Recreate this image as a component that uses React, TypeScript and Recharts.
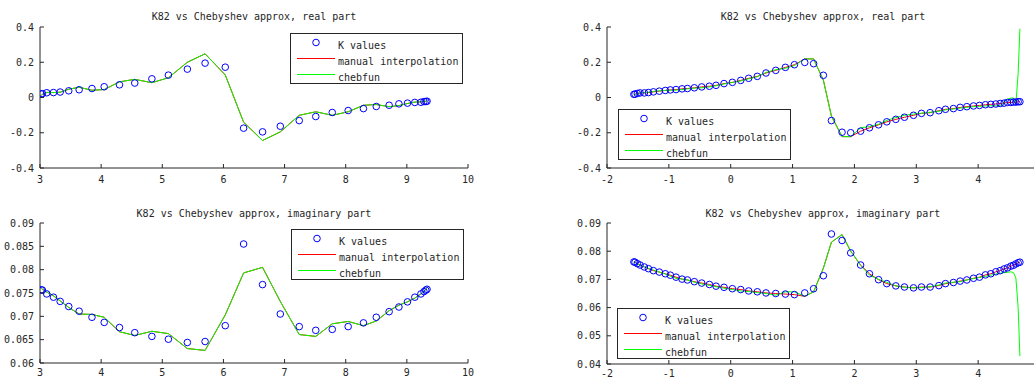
import React from 'react';
import { ComposedChart, Line, Scatter, XAxis, YAxis } from 'recharts';

const FONT = '"DejaVu Sans Mono", monospace';
const INK = '#262626';

// left column: sample points on [3, 9.33]
const kxLeft = [3.02, 3.04, 3.11, 3.22, 3.33, 3.47, 3.64, 3.85, 4.05, 4.3, 4.55, 4.83, 5.1, 5.41, 5.7, 6.03, 6.33, 6.64, 6.93, 7.24, 7.51, 7.78, 8.04, 8.29, 8.5, 8.71, 8.87, 9.01, 9.13, 9.23, 9.28, 9.31, 9.33];
const kRealLeft = [0.02, 0.022, 0.027, 0.028, 0.031, 0.038, 0.044, 0.051, 0.061, 0.072, 0.082, 0.106, 0.127, 0.161, 0.195, 0.172, -0.174, -0.195, -0.163, -0.131, -0.108, -0.085, -0.074, -0.063, -0.051, -0.044, -0.036, -0.032, -0.028, -0.027, -0.023, -0.023, -0.021];
const chebRealLeft = [0.012, 0.018, 0.029, 0.028, 0.03, 0.047, 0.058, 0.041, 0.045, 0.089, 0.103, 0.084, 0.112, 0.2, 0.248, 0.128, -0.14, -0.244, -0.195, -0.101, -0.081, -0.101, -0.081, -0.044, -0.04, -0.052, -0.046, -0.034, -0.026, -0.025, -0.022, -0.021, -0.02];
const kImagLeft = [0.0757, 0.0756, 0.0748, 0.0741, 0.0732, 0.0721, 0.0711, 0.0698, 0.0687, 0.0676, 0.0665, 0.0657, 0.0651, 0.0644, 0.0646, 0.068, 0.0855, 0.0768, 0.0705, 0.0678, 0.067, 0.0672, 0.0678, 0.0686, 0.0698, 0.071, 0.072, 0.0731, 0.0741, 0.0748, 0.0753, 0.0756, 0.0758];
const chebImagLeft = [0.076, 0.0758, 0.0752, 0.0744, 0.0733, 0.0719, 0.0705, 0.0704, 0.0698, 0.0667, 0.0659, 0.0668, 0.0663, 0.0631, 0.0627, 0.0703, 0.0793, 0.0805, 0.0732, 0.0661, 0.0657, 0.0684, 0.0689, 0.068, 0.069, 0.0712, 0.0724, 0.0731, 0.0739, 0.0748, 0.0753, 0.0758, 0.0761];

// right column: sample points on [-pi/2, 3pi/2]
const kxRight = [-1.565, -1.547, -1.51, -1.466, -1.396, -1.33, -1.25, -1.154, -1.057, -0.976, -0.884, -0.787, -0.7, -0.588, -0.469, -0.345, -0.237, -0.108, 0.027, 0.162, 0.29, 0.43, 0.57, 0.728, 0.884, 1.03, 1.197, 1.34, 1.498, 1.628, 1.8, 1.94, 2.1, 2.243, 2.39, 2.523, 2.669, 2.809, 2.955, 3.084, 3.224, 3.365, 3.472, 3.6, 3.709, 3.817, 3.925, 4.022, 4.118, 4.205, 4.286, 4.356, 4.42, 4.474, 4.529, 4.571, 4.61, 4.647, 4.675];
const kRealRight = [0.018, 0.019, 0.023, 0.026, 0.026, 0.028, 0.032, 0.036, 0.04, 0.043, 0.045, 0.049, 0.051, 0.055, 0.06, 0.064, 0.069, 0.079, 0.086, 0.097, 0.109, 0.12, 0.139, 0.154, 0.171, 0.186, 0.199, 0.192, 0.126, -0.131, -0.197, -0.2, -0.191, -0.172, -0.155, -0.138, -0.124, -0.112, -0.101, -0.09, -0.086, -0.075, -0.067, -0.063, -0.056, -0.052, -0.048, -0.045, -0.041, -0.039, -0.037, -0.034, -0.032, -0.028, -0.028, -0.026, -0.026, -0.024, -0.024];
const interpRealRight = [0.018, 0.019, 0.023, 0.026, 0.026, 0.028, 0.032, 0.036, 0.04, 0.043, 0.045, 0.049, 0.051, 0.055, 0.06, 0.064, 0.069, 0.079, 0.086, 0.097, 0.109, 0.12, 0.139, 0.154, 0.171, 0.186, 0.219, 0.219, 0.098, -0.105, -0.222, -0.222, -0.191, -0.172, -0.155, -0.138, -0.124, -0.112, -0.101, -0.09, -0.086, -0.075, -0.067, -0.063, -0.056, -0.052, -0.048, -0.045, -0.041, -0.039, -0.037, -0.034, -0.032, -0.028, -0.028, -0.026, -0.026, -0.024, -0.024];
const chebRealRight = [0.016, 0.017, 0.021, 0.026, 0.028, 0.03, 0.035, 0.038, 0.04, 0.041, 0.042, 0.045, 0.049, 0.053, 0.055, 0.06, 0.067, 0.077, 0.085, 0.094, 0.106, 0.118, 0.142, 0.158, 0.166, 0.181, 0.219, 0.219, 0.098, -0.105, -0.222, -0.222, -0.172, -0.165, -0.152, -0.13, -0.114, -0.101, -0.094, -0.089, -0.084, -0.078, -0.07, -0.065, -0.06, -0.056, -0.052, -0.05, -0.048, -0.047, -0.047, -0.046, -0.03, -0.01, -0.003, -0.003, -0.035, 0.137, 0.39];
const kImagRight = [0.0762, 0.0761, 0.0756, 0.0751, 0.0744, 0.0738, 0.0731, 0.0726, 0.072, 0.0715, 0.0708, 0.0701, 0.0698, 0.0692, 0.0687, 0.0682, 0.0676, 0.0672, 0.0667, 0.0664, 0.0659, 0.0656, 0.0652, 0.065, 0.0648, 0.0646, 0.0652, 0.0667, 0.0713, 0.0861, 0.0838, 0.0794, 0.0751, 0.072, 0.0699, 0.0685, 0.0677, 0.0673, 0.067, 0.0673, 0.0673, 0.0678, 0.0685, 0.0689, 0.0694, 0.0698, 0.0704, 0.0708, 0.0716, 0.072, 0.0727, 0.0731, 0.0737, 0.0741, 0.0747, 0.075, 0.0755, 0.0759, 0.0761];
const interpImagRight = [0.0762, 0.0761, 0.0756, 0.0751, 0.0744, 0.0738, 0.0731, 0.0726, 0.072, 0.0715, 0.0708, 0.0701, 0.0698, 0.0692, 0.0687, 0.0682, 0.0676, 0.0672, 0.0667, 0.0664, 0.0659, 0.0656, 0.0652, 0.065, 0.0648, 0.0646, 0.064, 0.0656, 0.074, 0.0832, 0.0859, 0.08, 0.0751, 0.072, 0.0699, 0.0685, 0.0677, 0.0673, 0.067, 0.0673, 0.0673, 0.0678, 0.0685, 0.0689, 0.0694, 0.0698, 0.0704, 0.0708, 0.0716, 0.072, 0.0727, 0.0731, 0.0737, 0.0741, 0.0747, 0.075, 0.0755, 0.0759, 0.0761];
const chebImagRight = [0.076, 0.0759, 0.0755, 0.075, 0.0744, 0.0739, 0.0733, 0.0726, 0.0719, 0.0712, 0.0704, 0.0701, 0.0698, 0.069, 0.0684, 0.0679, 0.0674, 0.0669, 0.0664, 0.0659, 0.0657, 0.0653, 0.065, 0.0644, 0.0656, 0.0656, 0.064, 0.0656, 0.074, 0.0832, 0.0859, 0.08, 0.075, 0.0715, 0.07, 0.069, 0.0677, 0.0672, 0.067, 0.0671, 0.0674, 0.068, 0.0687, 0.069, 0.0692, 0.0698, 0.0703, 0.0707, 0.0711, 0.0715, 0.0719, 0.0722, 0.0724, 0.0725, 0.0727, 0.0724, 0.0705, 0.06, 0.0428];

const xTicksLeft = [3, 4, 5, 6, 7, 8, 9, 10];
const xTicksRight = [-2, -1, 0, 1, 2, 3, 4];
const yTicksReal = [-0.4, -0.2, 0, 0.2, 0.4];
const yTicksImagLeft = [0.06, 0.065, 0.07, 0.075, 0.08, 0.085, 0.09];
const yTicksImagRight = [0.04, 0.05, 0.06, 0.07, 0.08, 0.09];

const titles = ['K82 vs Chebyshev approx, real part', 'K82 vs Chebyshev approx, imaginary part'];
const legendLabels = ['K values', 'manual interpolation', 'chebfun'];

type Pt = { x: number; y: number };
const zip = (xs: number[], ys: number[]): Pt[] => xs.map((x, i) => ({ x, y: ys[i] }));

const Y_GAP = 6;
const TICK = 4;

const textStyle = { fontFamily: FONT, fontSize: 10, fill: INK };

function XTick(props: any) {
  const { x, y, payload, gap } = props;
  const axisY = y - gap;
  return (
    <g>
      <line x1={x} x2={x} y1={axisY} y2={axisY - TICK} stroke={INK} />
      <text x={x} y={y} dy="0.71em" textAnchor="middle" {...textStyle}>
        {String(payload.value)}
      </text>
    </g>
  );
}

function YTick(props: any) {
  const { x, y, payload } = props;
  const axisX = x + Y_GAP;
  return (
    <g>
      <line x1={axisX} x2={axisX + TICK} y1={y} y2={y} stroke={INK} />
      <text x={x} y={y} dy="0.355em" textAnchor="end" {...textStyle}>
        {String(payload.value)}
      </text>
    </g>
  );
}

interface PanelProps {
  left: number;
  top: number;
  height: number;
  yAxisWidth: number;
  xGap: number;
  margin: { top: number; right: number; bottom: number; left: number };
  xDomain: [number, number];
  xTicks: number[];
  yDomain: [number, number];
  yTicks: number[];
  kx: number[];
  k: number[];
  interp: number[];
  cheb: number[];
}

function Panel(p: PanelProps) {
  return (
    <div style={{ position: 'absolute', left: p.left, top: p.top }}>
      <ComposedChart width={520} height={p.height} margin={p.margin}>
        <XAxis
          type="number"
          dataKey="x"
          domain={p.xDomain}
          ticks={p.xTicks}
          allowDataOverflow
          interval={0}
          height={20}
          tickLine={false}
          tickSize={0}
          tickMargin={p.xGap}
          axisLine={{ stroke: INK }}
          tick={(t: any) => <XTick {...t} gap={p.xGap} />}
        />
        <YAxis
          type="number"
          domain={p.yDomain}
          ticks={p.yTicks}
          allowDataOverflow
          interval={0}
          width={p.yAxisWidth}
          tickLine={false}
          tickSize={0}
          tickMargin={Y_GAP}
          axisLine={{ stroke: INK }}
          tick={(t: any) => <YTick {...t} />}
        />
        <Scatter
          data={zip(p.kx, p.k)}
          dataKey="y"
          isAnimationActive={false}
          shape={(s: any) => (
            <circle cx={s.cx} cy={s.cy} r={3.3} fill="none" stroke="#0000ff" strokeWidth={1} />
          )}
        />
        <Line
          data={zip(p.kx, p.interp)}
          dataKey="y"
          type="linear"
          stroke="#ff0000"
          strokeWidth={1}
          dot={false}
          activeDot={false}
          isAnimationActive={false}
        />
        <Line
          data={zip(p.kx, p.cheb)}
          dataKey="y"
          type="linear"
          stroke="#00ff00"
          strokeWidth={1}
          dot={false}
          activeDot={false}
          isAnimationActive={false}
        />
      </ComposedChart>
    </div>
  );
}

function LegendBox({ x, y }: { x: number; y: number }) {
  const rowY = [9.5, 25.5, 41.5];
  return (
    <g>
      <rect x={x + 0.5} y={y + 0.5} width={172} height={50} fill="#fff" stroke={INK} />
      <circle cx={x + 26} cy={y + rowY[0]} r={3.3} fill="none" stroke="#0000ff" />
      <line x1={x + 7} x2={x + 45} y1={y + rowY[1]} y2={y + rowY[1]} stroke="#ff0000" shapeRendering="crispEdges" />
      <line x1={x + 7} x2={x + 45} y1={y + rowY[2]} y2={y + rowY[2]} stroke="#00ff00" shapeRendering="crispEdges" />
      {legendLabels.map((label, i) => (
        <text key={label} x={x + 48} y={y + rowY[i] + 6} {...textStyle}>
          {label}
        </text>
      ))}
    </g>
  );
}

export default function App() {
  return (
    <div
      style={{
        position: 'fixed',
        left: 0,
        top: 0,
        width: 1034,
        height: 379,
        overflow: 'hidden',
        background: '#fff',
      }}
    >
      <Panel
        left={0}
        top={0}
        height={190}
        yAxisWidth={40}
        xGap={8}
        margin={{ top: 27, right: 52, bottom: 2, left: 0 }}
        xDomain={[3, 10]}
        xTicks={xTicksLeft}
        yDomain={[-0.4, 0.4]}
        yTicks={yTicksReal}
        kx={kxLeft}
        k={kRealLeft}
        interp={chebRealLeft}
        cheb={chebRealLeft}
      />
      <Panel
        left={520}
        top={0}
        height={190}
        yAxisWidth={87}
        xGap={8}
        margin={{ top: 27, right: 0, bottom: 2, left: 0 }}
        xDomain={[-2, 5]}
        xTicks={xTicksRight}
        yDomain={[-0.4, 0.4]}
        yTicks={yTicksReal}
        kx={kxRight}
        k={kRealRight}
        interp={interpRealRight}
        cheb={chebRealRight}
      />
      <Panel
        left={0}
        top={190}
        height={200}
        yAxisWidth={40}
        xGap={6}
        margin={{ top: 33, right: 52, bottom: 7, left: 0 }}
        xDomain={[3, 10]}
        xTicks={xTicksLeft}
        yDomain={[0.06, 0.09]}
        yTicks={yTicksImagLeft}
        kx={kxLeft}
        k={kImagLeft}
        interp={chebImagLeft}
        cheb={chebImagLeft}
      />
      <Panel
        left={520}
        top={190}
        height={200}
        yAxisWidth={87}
        xGap={6}
        margin={{ top: 33, right: 0, bottom: 6, left: 0 }}
        xDomain={[-2, 5]}
        xTicks={xTicksRight}
        yDomain={[0.04, 0.09]}
        yTicks={yTicksImagRight}
        kx={kxRight}
        k={kImagRight}
        interp={interpImagRight}
        cheb={chebImagRight}
      />
      <svg
        width={1034}
        height={379}
        style={{ position: 'absolute', left: 0, top: 0, pointerEvents: 'none' }}
      >
        <text x={254} y={20} textAnchor="middle" {...textStyle}>{titles[0]}</text>
        <text x={823} y={20} textAnchor="middle" {...textStyle}>{titles[0]}</text>
        <text x={254} y={217} textAnchor="middle" {...textStyle}>{titles[1]}</text>
        <text x={823} y={217} textAnchor="middle" {...textStyle}>{titles[1]}</text>
        <LegendBox x={290} y={33} />
        <LegendBox x={618} y={109} />
        <LegendBox x={291} y={229} />
        <LegendBox x={617} y={308} />
      </svg>
    </div>
  );
}
